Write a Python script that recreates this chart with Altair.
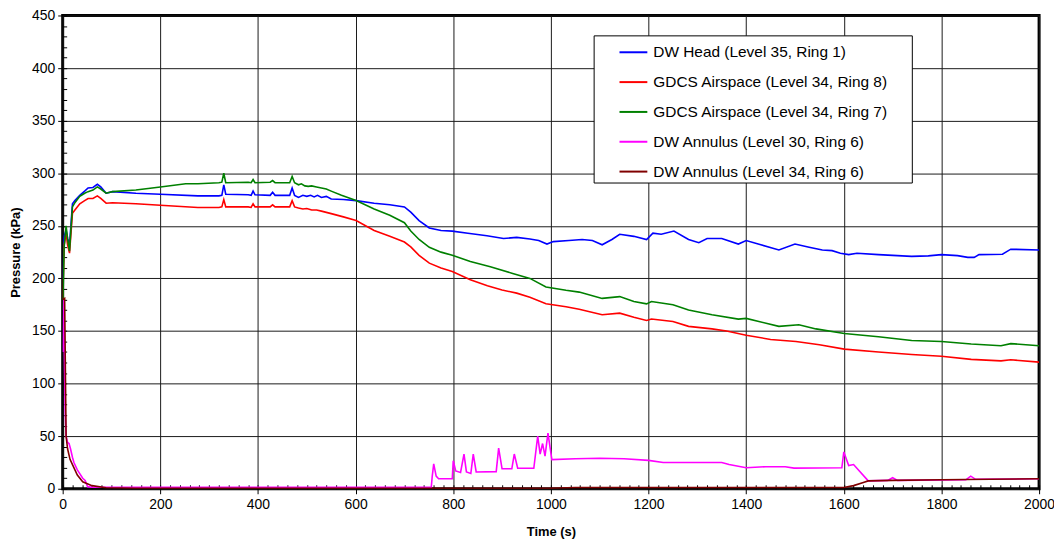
import altair as alt
import pandas as pd

names = [
    "DW Head (Level 35, Ring 1)",
    "GDCS Airspace (Level 34, Ring 8)",
    "GDCS Airspace (Level 34, Ring 7)",
    "DW Annulus (Level 30, Ring 6)",
    "DW Annulus (Level 34, Ring 6)",
]
colors = ["#0000FF", "#FF0000", "#008000", "#FF00FF", "#800000"]

blue_t = [0, 3, 7, 10, 14, 20, 25, 35, 45, 52, 62, 71, 78, 89, 102, 150, 200, 277, 320, 326, 330, 334,
          380, 386, 390, 394, 425, 430, 435, 465, 470, 475, 483, 492, 500, 508, 515, 522, 530, 540, 550,
          575, 601, 638, 670, 700, 713, 730, 751, 775, 798, 830, 869, 903, 930, 957, 975, 992, 1005,
          1037, 1064, 1085, 1105, 1125, 1141, 1170, 1196, 1209, 1226, 1252, 1282, 1303, 1320, 1350,
          1384, 1400, 1430, 1467, 1500, 1529, 1556, 1576, 1593, 1610, 1627, 1671, 1739, 1773, 1800,
          1833, 1854, 1867, 1877, 1925, 1942, 2000]
blue_p = [200, 240, 246, 238, 232, 271, 274, 279, 283, 286, 286.5, 289.5, 287, 281, 282.5, 281, 280,
          278.5, 278.5, 279, 289, 280, 279.5, 279, 283, 279.5, 279, 282, 279, 279, 286, 279, 277, 279,
          278, 279, 277.5, 279, 277, 278, 275.5, 275, 274, 271.5, 270, 268, 263, 255, 248, 245.5, 245,
          243, 240.5, 238, 239, 237.5, 236, 232.7, 235, 236, 237, 236, 232, 237, 242, 240, 237, 243,
          242, 245, 237, 234, 238, 238, 232.7, 236, 232, 227, 232.7, 229.6, 227, 226.4, 224, 222.6,
          224, 222.6, 221, 221.4, 222.6, 221.7, 220, 220, 222.6, 223, 227.8, 227]

red_t = [0, 3, 7, 10, 14, 20, 25, 35, 45, 52, 62, 71, 78, 89, 102, 150, 200, 277, 320, 326, 330, 334,
         380, 386, 390, 394, 425, 430, 435, 465, 470, 475, 483, 492, 500, 510, 520, 530, 550, 575, 601,
         638, 670, 700, 713, 730, 751, 775, 798, 835, 870, 900, 930, 957, 990, 1031, 1058, 1105, 1141,
         1170, 1196, 1206, 1250, 1282, 1330, 1360, 1400, 1450, 1502, 1550, 1601, 1671, 1739, 1800,
         1861, 1922, 1942, 2000]
red_p = [180, 232, 243, 232, 224, 262, 265, 271, 274, 276, 276, 278.5, 276, 271.5, 272, 271, 269.5,
         267.5, 267.5, 268, 275, 268, 268, 267.5, 271, 268, 268, 270, 268, 268, 274, 268, 267, 266,
         266.5, 265, 265, 264, 261.6, 258.5, 255, 245.6, 240, 234.6, 230, 222, 214.5, 210, 206.6,
         198.8, 193, 189, 186, 182, 176, 173, 170.6, 165.4, 167, 163, 160, 161.4, 159, 154.4, 152,
         150, 146, 142, 140, 137, 132.8, 130, 127.6, 126, 123, 121.6, 122.6, 120.4]

green_t = [0, 3, 7, 10, 14, 20, 25, 35, 45, 52, 62, 71, 78, 89, 102, 150, 200, 252, 277, 320, 326, 330,
           334, 380, 386, 390, 394, 425, 430, 435, 465, 470, 475, 483, 489, 496, 503, 510, 520, 530,
           540, 550, 571, 601, 638, 670, 700, 713, 730, 751, 775, 798, 835, 876, 920, 957, 990, 1031,
           1058, 1105, 1141, 1170, 1196, 1206, 1250, 1282, 1330, 1384, 1400, 1467, 1508, 1543, 1601,
           1671, 1739, 1800, 1861, 1922, 1942, 2000]
green_p = [170, 230, 250, 238, 226, 268, 272, 278, 281, 282.5, 284, 287, 285, 281, 282.5, 284, 287,
           290, 290, 291, 291.5, 300, 291, 291.5, 291, 294, 291, 291.5, 293, 291, 291, 297, 291, 289,
           290, 288, 287.5, 288, 287, 286, 285, 283, 279, 274, 266, 260, 253, 245, 237, 229.6, 225,
           222, 216, 211, 205, 200, 191.8, 188.7, 187, 181, 182.7, 178, 175.8, 178, 175, 170, 165.4,
           161.3, 162, 154.4, 156, 152, 147.6, 144.5, 141, 140, 137.6, 136, 138, 136]

mag_t = [0, 2, 5, 7, 10, 13, 16, 20, 23, 30, 41, 46, 51, 60, 100, 400, 755, 757, 760, 765, 770, 798,
         800, 805, 815, 822, 827, 836, 841, 847, 888, 893, 900, 920, 925, 932, 965, 973, 978, 983, 988,
         994, 1002, 1050, 1100, 1150, 1200, 1230, 1350, 1365, 1400, 1440, 1480, 1498, 1596, 1600,
         1610, 1620, 1650, 1690, 1700, 1710, 1850, 1860, 1870, 2000]
mag_p = [130, 180, 75, 50, 44, 43, 38, 30, 25, 18, 10, 8, 2, 1.5, 1.5, 1.5, 1.5, 12, 23.6, 12, 9.5, 9.5,
         26.7, 17, 15.5, 33, 16, 14.5, 33, 16, 16.3, 38.6, 19, 19, 33, 19.5, 19.5, 50, 33, 43, 31, 53,
         27.7, 28.5, 29, 28.5, 27, 25, 25, 23, 20, 21, 21, 19.6, 20, 35, 22, 23, 7.5, 8, 10.5, 8, 8.5,
         12, 9, 9.5]

brown_t = [0, 4, 7, 10, 15, 21, 30, 41, 60, 89, 150, 1000, 1050, 1600, 1620, 1640, 1650, 1700, 1800,
           1900, 2000]
brown_p = [180, 181, 50, 38, 28, 22, 13, 6.6, 3, 1, 0.5, 0.5, 1.2, 1.2, 3, 6, 7.5, 8, 8.5, 9, 9.5]

series = [(blue_t, blue_p), (red_t, red_p), (green_t, green_p), (mag_t, mag_p), (brown_t, brown_p)]
rows = []
for i, (ts, ps) in enumerate(series):
    for t, p in zip(ts, ps):
        rows.append({"t": t, "p": p, "series": names[i], "k": i})
df = pd.DataFrame(rows)

x_ticks = list(range(0, 2001, 200))
y_ticks = list(range(0, 451, 50))
x_minor = list(range(0, 2001, 20))
y_minor = list(range(0, 451, 10))

xs = alt.Scale(domain=[0, 2000], nice=False, zero=False)
ys = alt.Scale(domain=[0, 450], nice=False, zero=False)

# trailing non-breaking spaces (kept by a zero-width space) widen the legend box on the right
label_pad = "datum.label + '" + "\u00a0" * 5 + "\u200b'"

lines = alt.Chart(df).mark_line(strokeWidth=1.6, clip=True).encode(
    x=alt.X("t:Q", scale=xs, axis=alt.Axis(
        values=x_ticks, title="Time (s)", format="d", grid=True, gridColor="#1a1a1a", gridWidth=1,
        domain=False, tickSize=5, tickColor="black", labelPadding=4, labelFontSize=14,
        labelColor="black", titleFontSize=13, titleFontWeight="bold", titleColor="black",
        titlePadding=14, labelFlush=False)),
    y=alt.Y("p:Q", scale=ys, axis=alt.Axis(
        values=y_ticks, title="Pressure (kPa)", format="d", grid=True, gridColor="#1a1a1a",
        gridWidth=1, domain=False, tickSize=5, tickColor="black", labelPadding=3,
        labelFontSize=14, labelColor="black", titleFontSize=13, titleFontWeight="bold",
        titleColor="black", titlePadding=9)),
    color=alt.Color("series:N", scale=alt.Scale(domain=names, range=colors), legend=alt.Legend(
        title=None, orient="none", legendX=534, legendY=20, symbolType="stroke",
        symbolStrokeWidth=2, symbolSize=784, labelFontSize=15.5, labelColor="black",
        labelLimit=500, rowPadding=6, padding=2, symbolOffset=23, labelOffset=5,
        labelExpr=label_pad, fillColor="white", strokeColor="black")),
    order=alt.Order("t:Q"),
    detail="k:N",
)

minor = alt.Chart(df).mark_point(opacity=0).encode(
    x=alt.X("t:Q", scale=xs, axis=alt.Axis(
        orient="bottom", values=x_minor, labels=False, grid=False, domain=False, tickSize=4,
        offset=-4, title=None, tickColor="black")),
    y=alt.Y("p:Q", scale=ys, axis=alt.Axis(
        orient="left", values=y_minor, labels=False, grid=False, domain=False, tickSize=4,
        offset=-4, title=None, tickColor="black")),
)

chart = alt.layer(lines, minor).resolve_scale(x="independent", y="independent").resolve_axis(
    x="independent", y="independent"
).properties(
    width=982, height=476,
    autosize=alt.AutoSizeParams(type="none"),
    padding={"left": 55, "top": 6, "right": 15, "bottom": 50},
).configure(font="Liberation Sans").configure_view(
    stroke="black", strokeWidth=3
).configure_legend(strokeWidth=1)

chart.save("out.html", embed_options={"renderer": "svg", "actions": False})
